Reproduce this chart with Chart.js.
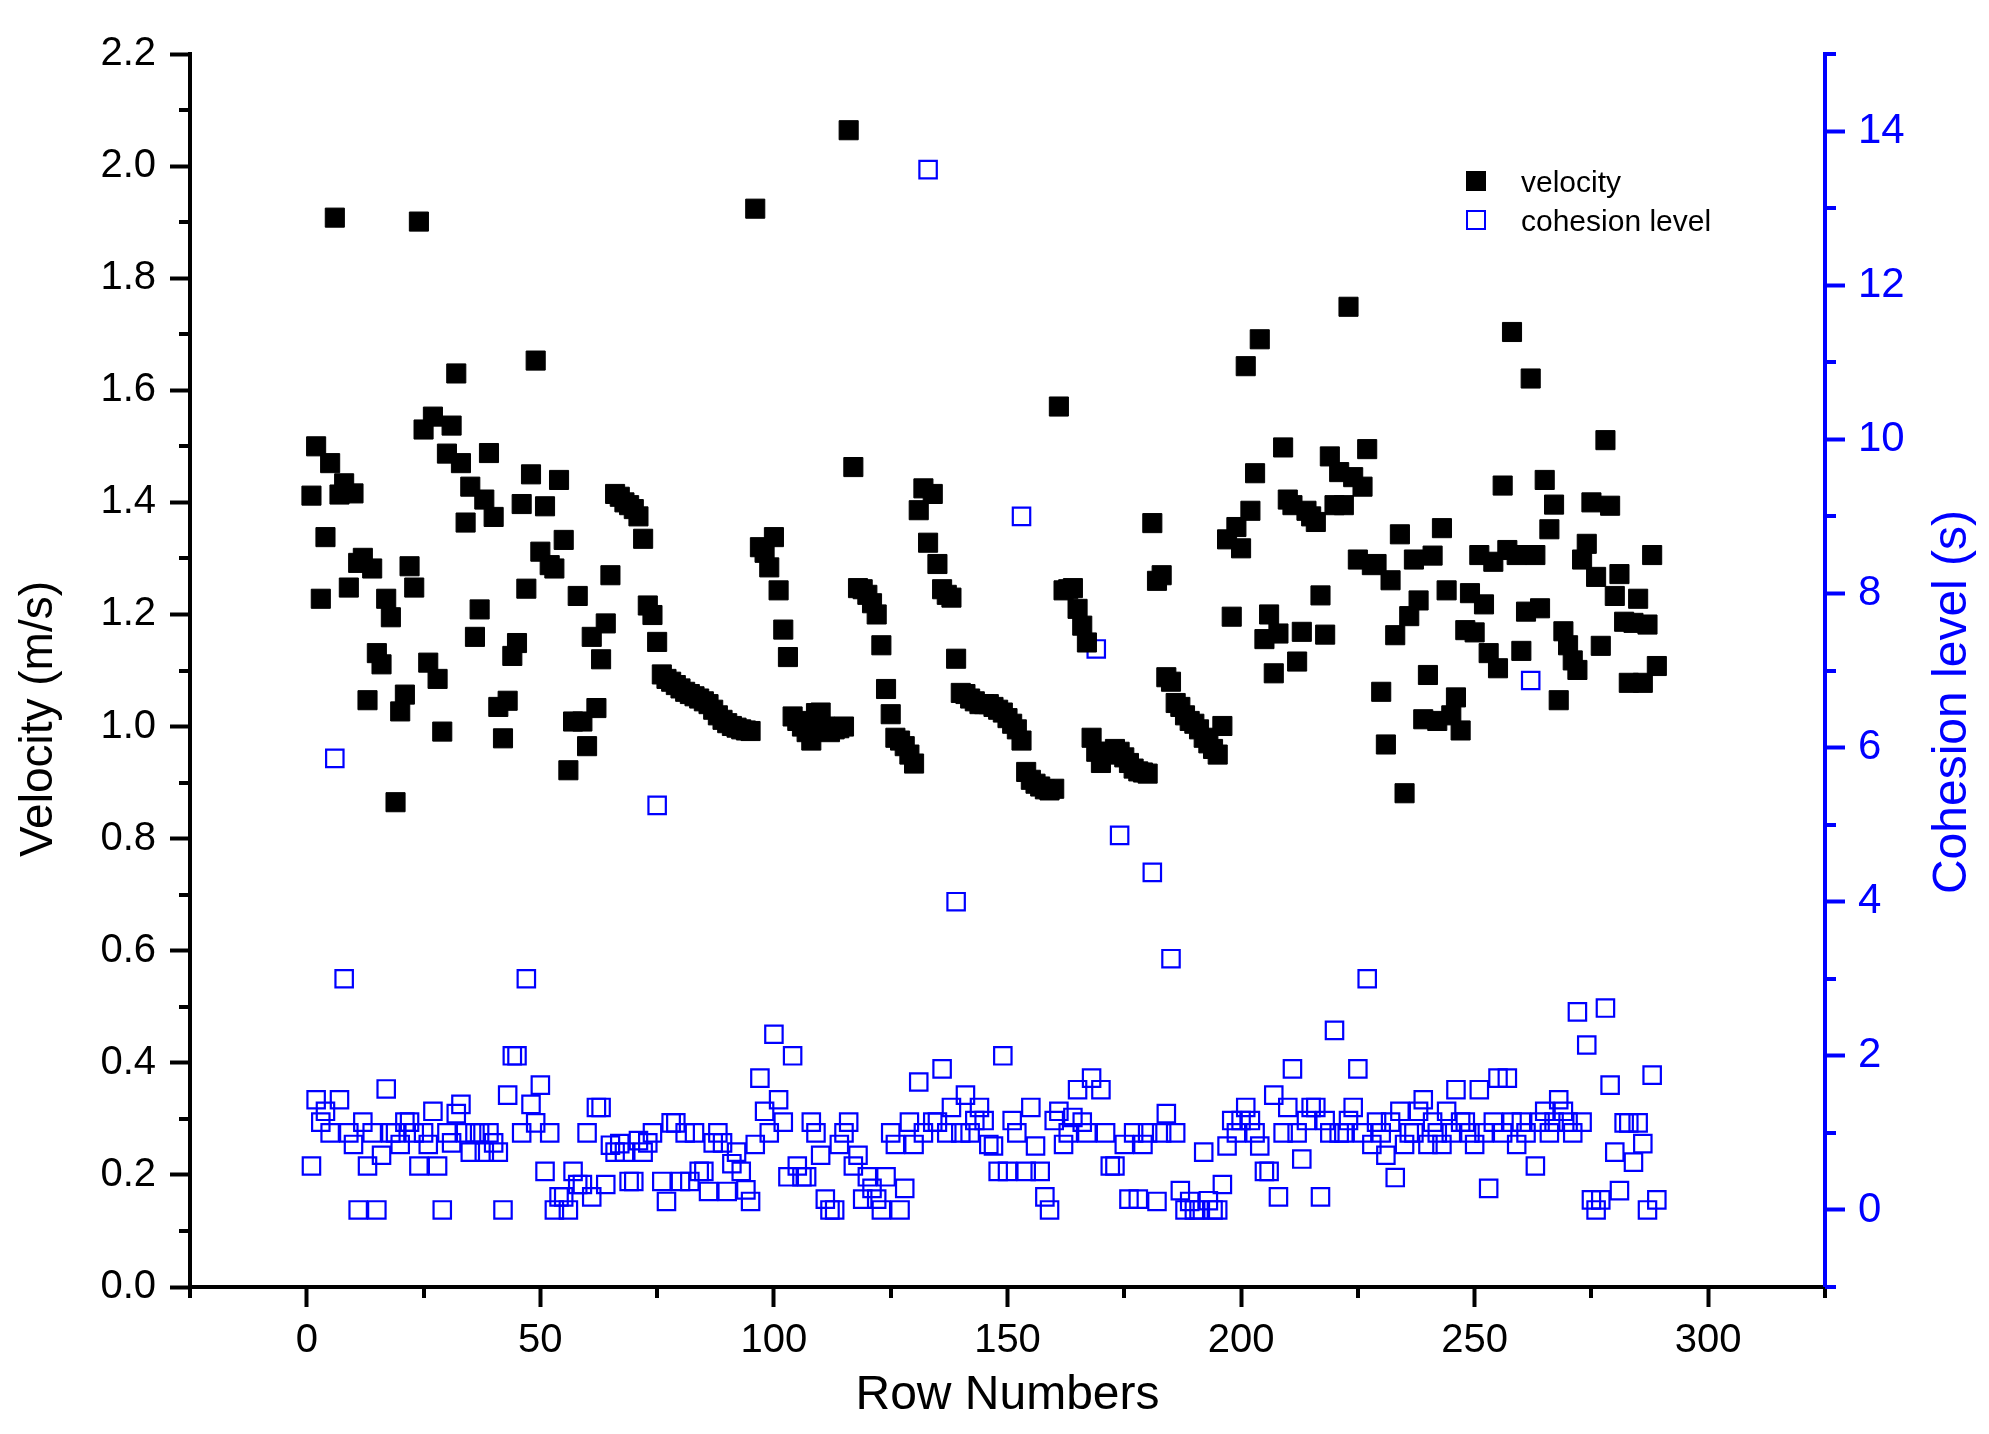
<!DOCTYPE html>
<html>
<head>
<meta charset="utf-8">
<script src="https://cdn.jsdelivr.net/npm/chart.js@4.4.1/dist/chart.umd.min.js"></script>
<style>
  html, body { margin: 0; padding: 0; background: #fff; }
</style>
</head>
<body>
<canvas id="chart" width="1989" height="1434"></canvas>
<script>
// row numbers 1..289 (x categories)
const rowNumbers = Array.from({ length: 289 }, (_, i) => i + 1);

// velocity (m/s), one per row
const velocity = [
  1.412, 1.500, 1.228, 1.338, 1.470, 1.908, 1.414, 1.434, 1.248, 1.416,
  1.292, 1.301, 1.047, 1.282, 1.131, 1.111, 1.228, 1.195, 0.865, 1.027,
  1.057, 1.286, 1.248, 1.901, 1.530, 1.114, 1.553, 1.085, 0.991, 1.487,
  1.537, 1.630, 1.470, 1.364, 1.428, 1.160, 1.209, 1.405, 1.488, 1.374,
  1.035, 0.979, 1.046, 1.126, 1.149, 1.397, 1.246, 1.450, 1.653, 1.312,
  1.393, 1.288, 1.282, 1.440, 1.333, 0.922, 1.009, 1.233, 1.009, 0.965,
  1.160, 1.033, 1.120, 1.184, 1.270, 1.415, 1.410, 1.400, 1.395, 1.388,
  1.375, 1.335, 1.216, 1.199, 1.151, 1.093, 1.085, 1.080, 1.074, 1.068,
  1.062, 1.058, 1.054, 1.050, 1.045, 1.040, 1.030, 1.020, 1.012, 1.006,
  1.001, 0.998, 0.995, 0.993, 0.992, 1.924, 1.320, 1.310, 1.284, 1.338,
  1.243, 1.173, 1.124, 1.018, 1.010, 1.000, 0.990, 0.975, 1.024, 1.025,
  1.000, 0.990, 0.995, 0.997, 1.000, 2.064, 1.463, 1.247, 1.245, 1.235,
  1.220, 1.200, 1.145, 1.067, 1.022, 0.980, 0.975, 0.965, 0.950, 0.934,
  1.386, 1.425, 1.328, 1.415, 1.290, 1.245, 1.235, 1.230, 1.121, 1.060,
  1.058, 1.050, 1.045, 1.040, 1.040, 1.040, 1.035, 1.030, 1.025, 1.015,
  1.005, 0.995, 0.975, 0.919, 0.905, 0.898, 0.893, 0.888, 0.886, 0.889,
  1.571, 1.243, 1.245, 1.247, 1.210, 1.180, 1.150, 0.980, 0.955, 0.935,
  0.950, 0.955, 0.960, 0.955, 0.945, 0.935, 0.925, 0.920, 0.918, 0.916,
  1.363, 1.260, 1.270, 1.088, 1.080, 1.042, 1.035, 1.020, 1.010, 1.005,
  0.995, 0.980, 0.970, 0.960, 0.950, 1.001, 1.334, 1.196, 1.356, 1.318,
  1.643, 1.385, 1.452, 1.691, 1.156, 1.200, 1.095, 1.166, 1.498, 1.405,
  1.395, 1.116, 1.169, 1.385, 1.375, 1.365, 1.234, 1.164, 1.482, 1.395,
  1.454, 1.395, 1.749, 1.445, 1.298, 1.428, 1.495, 1.288, 1.290, 1.062,
  0.968, 1.261, 1.163, 1.343, 0.881, 1.197, 1.298, 1.225, 1.013, 1.092,
  1.305, 1.010, 1.354, 1.243, 1.020, 1.052, 0.993, 1.172, 1.238, 1.168,
  1.306, 1.218, 1.131, 1.294, 1.104, 1.430, 1.315, 1.704, 1.306, 1.135,
  1.205, 1.621, 1.306, 1.211, 1.440, 1.352, 1.396, 1.047, 1.170, 1.145,
  1.118, 1.101, 1.298, 1.326, 1.400, 1.267, 1.144, 1.511, 1.394, 1.233,
  1.272, 1.187, 1.078, 1.185, 1.228, 1.078, 1.182, 1.306, 1.108
];

// cohesion level (s), one per row
const cohesion = [
  0.57, 1.43, 1.14, 1.28, 1.00, 5.86, 1.43, 3.00, 1.00, 0.85,
  0.00, 1.14, 0.57, 1.00, 0.00, 0.71, 1.57, 1.00, 1.00, 0.85,
  1.14, 1.14, 1.00, 0.57, 1.00, 0.85, 1.28, 0.57, 0.00, 1.00,
  0.87, 1.25, 1.37, 1.00, 0.75, 1.00, 1.00, 0.75, 1.00, 0.87,
  0.75, 0.00, 1.49, 2.00, 2.00, 1.00, 3.00, 1.37, 1.13, 1.62,
  0.50, 1.00, 0.00, 0.17, 0.17, 0.00, 0.50, 0.33, 0.33, 1.00,
  0.17, 1.33, 1.33, 0.33, 0.84, 0.75, 0.86, 0.75, 0.37, 0.37,
  0.90, 0.75, 0.87, 1.00, 5.25, 0.37, 0.11, 1.13, 1.13, 0.37,
  1.00, 0.37, 1.00, 0.50, 0.50, 0.24, 0.87, 1.00, 0.87, 0.24,
  0.60, 0.75, 0.50, 0.26, 0.11, 0.85, 1.71, 1.28, 1.00, 2.28,
  1.43, 1.14, 0.43, 2.00, 0.57, 0.43, 0.43, 1.14, 1.00, 0.71,
  0.14, 0.00, 0.00, 0.85, 1.00, 1.14, 0.57, 0.71, 0.14, 0.43,
  0.28, 0.14, 0.00, 0.43, 1.00, 0.85, 0.00, 0.28, 1.14, 0.85,
  1.66, 1.00, 13.50, 1.14, 1.14, 1.83, 1.00, 1.33, 4.00, 1.00,
  1.49, 1.00, 1.16, 1.33, 1.16, 0.85, 0.83, 0.50, 2.00, 0.50,
  1.16, 1.00, 9.00, 0.50, 1.33, 0.83, 0.50, 0.17, 0.00, 1.16,
  1.28, 0.85, 1.00, 1.20, 1.56, 1.14, 1.00, 1.71, 7.28, 1.56,
  1.00, 0.57, 0.57, 4.86, 0.85, 0.14, 1.00, 0.14, 0.85, 1.00,
  4.38, 0.11, 1.00, 1.25, 3.26, 1.00, 0.25, 0.00, 0.11, 0.00,
  0.00, 0.75, 0.12, 0.00, 0.00, 0.33, 0.83, 1.16, 1.00, 1.16,
  1.33, 1.16, 1.00, 0.83, 0.50, 0.50, 1.49, 0.17, 1.00, 1.33,
  1.83, 1.00, 0.66, 1.16, 1.33, 1.33, 0.17, 1.16, 1.00, 2.33,
  1.00, 1.00, 1.16, 1.33, 1.83, 1.00, 3.00, 0.85, 1.14, 1.00,
  0.71, 1.14, 0.42, 1.28, 0.85, 1.00, 1.00, 1.28, 1.43, 0.85,
  1.14, 1.00, 0.85, 1.28, 1.00, 1.56, 1.14, 1.14, 1.00, 0.85,
  1.56, 1.00, 0.28, 1.14, 1.71, 1.00, 1.71, 1.14, 0.85, 1.14,
  1.00, 6.87, 0.57, 1.14, 1.28, 1.00, 1.14, 1.43, 1.28, 1.14,
  1.00, 2.57, 1.14, 2.14, 0.13, 0.00, 0.13, 2.62, 1.62, 0.75,
  0.25, 1.13, 1.13, 0.62, 1.13, 0.86, 0.00, 1.75, 0.13
];

// tick labels
const xTicks = [0, 50, 100, 150, 200, 250, 300];
const xMinorTicks = [-25, 25, 75, 125, 175, 225, 275, 325];
const velocityTicks = [0, 0.2, 0.4, 0.6, 0.8, 1.0, 1.2, 1.4, 1.6, 1.8, 2.0, 2.2];
const velocityMinorTicks = [0.1, 0.3, 0.5, 0.7, 0.9, 1.1, 1.3, 1.5, 1.7, 1.9, 2.1];
const cohesionTicks = [0, 2, 4, 6, 8, 10, 12, 14];
const cohesionMinorTicks = [-1, 1, 3, 5, 7, 9, 11, 13, 15];

const FONT = "'Liberation Sans', Arial, Helvetica, sans-serif";
const BLUE = '#0000ff';

// minor ticks, side titles and the legend box
const extras = {
  id: 'extras',
  afterDraw(chart) {
    const ctx = chart.ctx;
    const area = chart.chartArea;
    const sx = chart.scales.x, sy = chart.scales.y, sy1 = chart.scales.y1;
    ctx.save();
    ctx.lineWidth = 4;
    ctx.strokeStyle = '#000';
    ctx.beginPath();
    xMinorTicks.forEach(v => {
      const px = Math.round(sx.getPixelForValue(v));
      ctx.moveTo(px, area.bottom);
      ctx.lineTo(px, area.bottom + 11);
    });
    velocityMinorTicks.forEach(v => {
      const py = Math.round(sy.getPixelForValue(v));
      ctx.moveTo(area.left, py);
      ctx.lineTo(area.left - 11, py);
    });
    ctx.stroke();
    ctx.strokeStyle = BLUE;
    ctx.beginPath();
    cohesionMinorTicks.forEach(v => {
      const py = Math.round(sy1.getPixelForValue(v));
      ctx.moveTo(area.right, py);
      ctx.lineTo(area.right + 11, py);
    });
    ctx.stroke();

    // axis titles (both read bottom to top)
    ctx.textAlign = 'center';
    ctx.textBaseline = 'middle';
    ctx.fillStyle = '#000';
    ctx.font = '46px ' + FONT;
    ctx.translate(39, 719);
    ctx.rotate(-Math.PI / 2);
    ctx.fillText('Velocity (m/s)', 0, 0);
    ctx.setTransform(1, 0, 0, 1, 0, 0);
    ctx.fillStyle = BLUE;
    ctx.font = '48px ' + FONT;
    ctx.translate(1953, 702);
    ctx.rotate(-Math.PI / 2);
    ctx.fillText('Cohesion level (s)', 0, 0);
    ctx.setTransform(1, 0, 0, 1, 0, 0);

    // legend
    ctx.textAlign = 'left';
    ctx.textBaseline = 'alphabetic';
    ctx.font = '30px ' + FONT;
    ctx.fillStyle = '#000';
    ctx.fillRect(1466, 171, 20, 20);
    ctx.fillText('velocity', 1521, 192);
    ctx.strokeStyle = BLUE;
    ctx.lineWidth = 2;
    ctx.strokeRect(1467, 211, 18, 18);
    ctx.fillText('cohesion level', 1521, 231);
    ctx.restore();
  }
};

const velocityPoints = rowNumbers.map((r, i) => ({ x: r, y: velocity[i] }));
const cohesionPoints = rowNumbers.map((r, i) => ({ x: r, y: cohesion[i] }));

new Chart(document.getElementById('chart'), {
  type: 'scatter',
  data: {
    datasets: [
      {
        label: 'velocity',
        data: velocityPoints,
        yAxisID: 'y',
        pointStyle: 'rect',
        pointRadius: 13.5,
        pointBackgroundColor: '#000',
        pointBorderColor: '#000',
        pointBorderWidth: 1
      },
      {
        label: 'cohesion level',
        data: cohesionPoints,
        yAxisID: 'y1',
        pointStyle: 'rect',
        pointRadius: 12.3,
        pointBackgroundColor: 'rgba(0,0,0,0)',
        pointBorderColor: BLUE,
        pointBorderWidth: 2.2
      }
    ]
  },
  options: {
    responsive: false,
    animation: false,
    devicePixelRatio: 1,
    layout: { padding: { top: 54, left: 0, right: 0, bottom: 0 } },
    plugins: {
      legend: { display: false },
      tooltip: { enabled: false }
    },
    scales: {
      x: {
        type: 'linear',
        position: 'bottom',
        min: -25,
        max: 325,
        afterBuildTicks: s => { s.ticks = xTicks.map(v => ({ value: v })); },
        afterFit: s => { s.height = 147; },
        grid: { drawOnChartArea: false, tickLength: 20, tickWidth: 4, tickColor: '#000' },
        border: { color: '#000', width: 4 },
        ticks: { color: '#000', font: { family: FONT, size: 40 }, padding: 10, maxRotation: 0 },
        title: {
          display: true,
          text: 'Row Numbers',
          color: '#000',
          font: { family: FONT, size: 48 },
          padding: { top: 0, bottom: 9 }
        }
      },
      y: {
        type: 'linear',
        position: 'left',
        min: 0,
        max: 2.2,
        afterBuildTicks: s => { s.ticks = velocityTicks.map(v => ({ value: v })); },
        afterFit: s => { s.width = 190; },
        grid: { drawOnChartArea: false, tickLength: 20, tickWidth: 4, tickColor: '#000' },
        border: { color: '#000', width: 4 },
        ticks: {
          color: '#000',
          font: { family: FONT, size: 40 },
          padding: 14,
          callback: v => v.toFixed(1)
        }
      },
      y1: {
        type: 'linear',
        position: 'right',
        min: -1,
        max: 15,
        afterBuildTicks: s => { s.ticks = cohesionTicks.map(v => ({ value: v })); },
        afterFit: s => { s.width = 164; },
        grid: { drawOnChartArea: false, tickLength: 20, tickWidth: 4, tickColor: BLUE },
        border: { color: BLUE, width: 4 },
        ticks: { color: BLUE, font: { family: FONT, size: 42 }, padding: 13 }
      }
    }
  },
  plugins: [extras]
});
</script>
</body>
</html>
